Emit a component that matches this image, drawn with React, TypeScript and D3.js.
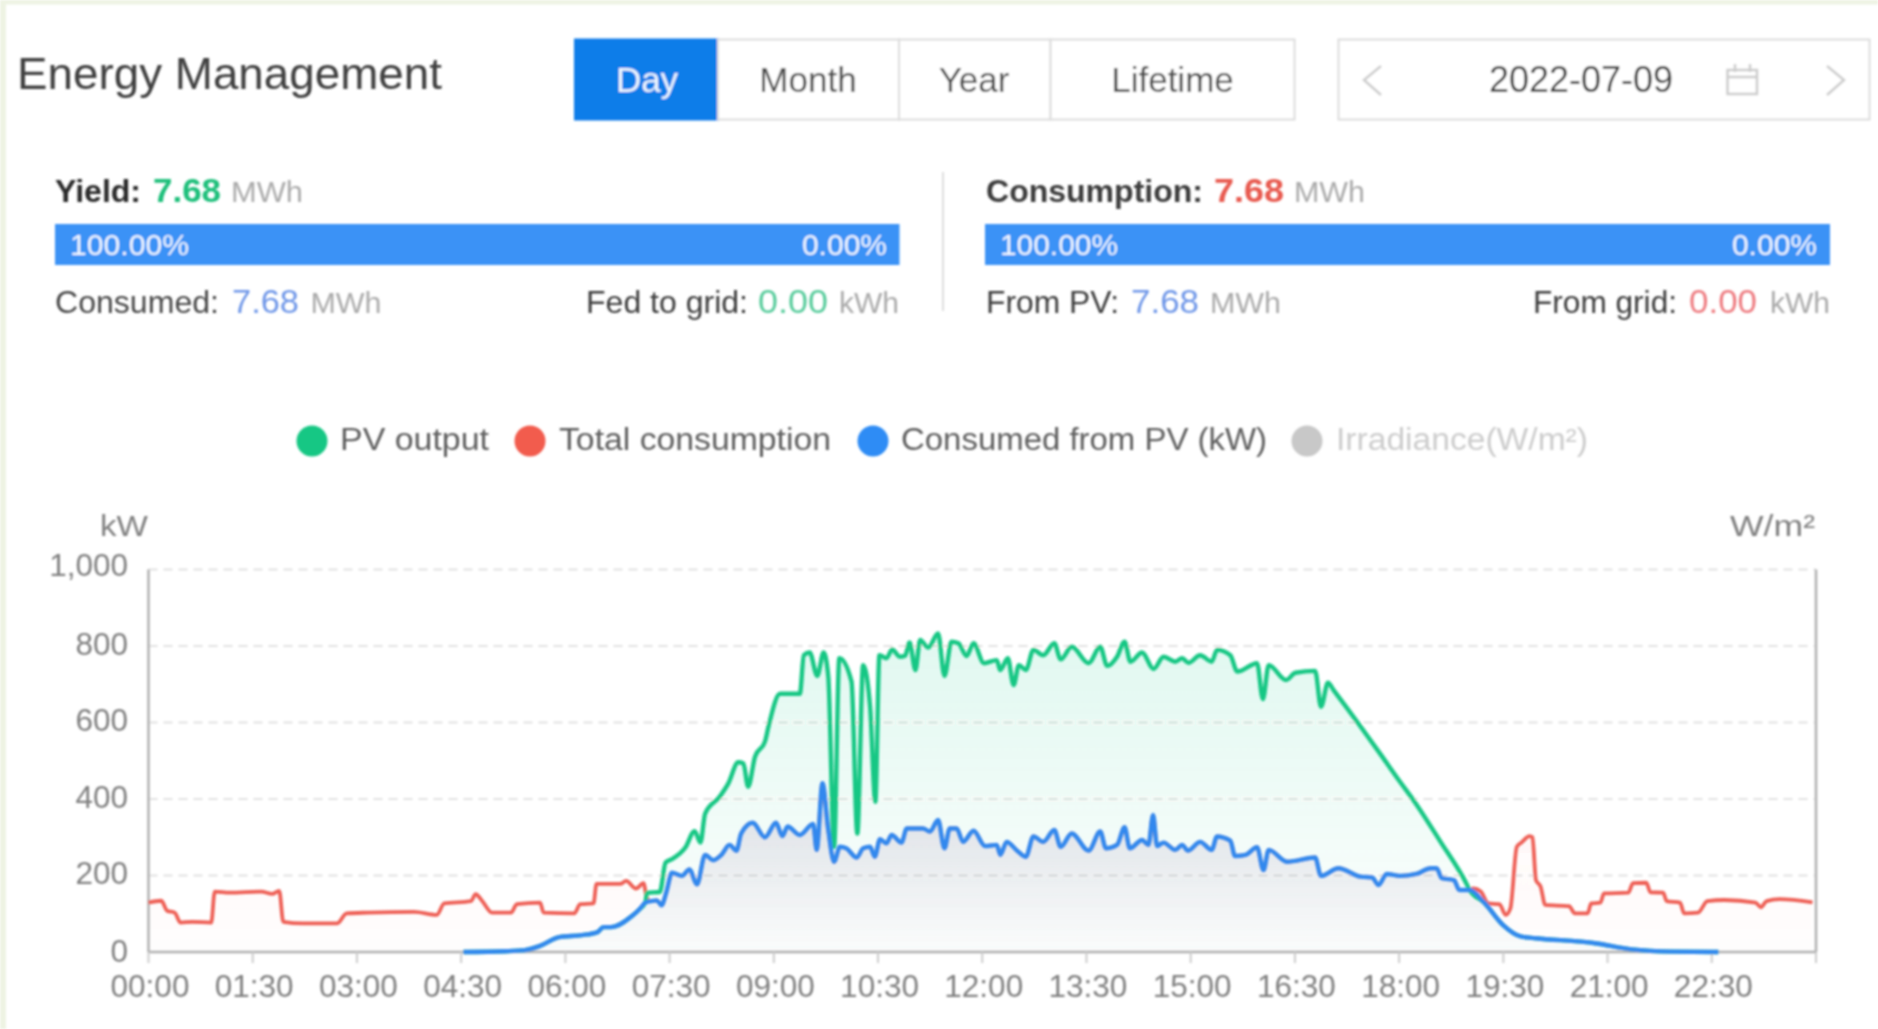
import React from "react";
import * as d3 from "d3";

// ---------- data (x is a 5-minute slot of the day, y is kW) ----------
const tickLabels = ["00:00","01:30","03:00","04:30","06:00","07:30","09:00","10:30","12:00","13:30","15:00","16:30","18:00","19:30","21:00","22:30"];
const yTicks = [0, 200, 400, 600, 800, 1000];
const slotsPerTick = 18;
const lastSlot = 287;
const slotsInDay = 288;

const blueSlots = [54.2,61.5,64.8,67.4,70.7,74.6,77.3,78.3,79.6,83.2,84.5,85.5,86.5,87.5,88.3,89.1,90.1,91.8,93.1,94.4,95.8,97.2,98.6,100,101.2,102,104,106.1,108,109.1,110,112.1,114.4,115,116,117,118,119,120.1,121.9,123,124.2,125,125.9,127,127.9,129.6,130.5,133.3,134.5,135.9,137,137.9,139.1,140.2,142,144,146,146.6,147.7,149.5,151,152.3,154,155.9,157,158.9,161.8,163.8,164.8,166.7,168,168.9,171,172.1,172.9,173.6,174.7,176.7,177.9,178.9,181,183,183.9,186.2,187,188.8,190.8,191.9,192.8,196,200.8,201.8,204.8,208.6,210.6,211.7,213.1,215.4,218.2,220.7,221.7,222.6,224.7,225.6,227.4,229.9,233.1,236.3,238.8,249,255.3,262.3,270.2];
const blueValues = [0,2,5,16,39,44,52,65,65,94,112,129,133,135,122,155,207,199,216,177,254,240,254,280,265,310,338,300,338,303,328,306,335,267,441,319,236,275,271,247,271,275,249,295,284,306,286,323,323,315,345,271,323,323,288,317,277,280,254,288,265,249,302,288,319,275,310,265,315,271,280,326,271,293,280,358,277,286,267,280,265,288,267,302,291,251,254,274,214,267,236,247,199,219,197,195,175,204,199,204,219,219,193,188,162,162,129,71,40,36,23,7,1,0];

const greenSlots = [85.8,88,89,90,92.4,94,95,95.8,98.3,99.8,101.5,102.4,103.2,104.4,106.1,106.7,108.7,112.1,112.8,113.8,115.1,116.2,117,118,118.9,121,122,123,124.2,125.1,125.8,127,128,129.3,130.2,131,132,132.8,134.2,135.9,137,138.2,139.4,140.8,142,143.8,146,146.6,147.9,148.9,149.8,151,152.3,154,155.9,157,158.9,161.8,163.8,165,166.7,168,169,171,173,174.7,176.7,177.9,179,181,183,183.9,186.2,187.4,190.8,191.8,192.8,195.8,197.4,200.8,201.8,203,204,208.3,212,215.4,217.9,222.3,226.8];
const greenValues = [155,157,234,242,273,316,286,362,406,441,496,493,432,511,550,589,675,675,776,783,722,783,720,275,768,707,310,750,641,393,776,768,791,772,774,809,737,816,796,833,722,811,807,774,807,755,763,737,768,698,750,737,790,776,807,765,798,755,798,748,772,811,759,783,740,772,759,768,756,776,759,790,776,733,755,661,750,711,730,735,641,704,684,596,518,445,393,290,180];

const redMorningSlots = [0,2.2,3.2,4.5,5.5,7.5,10.8,11.4,14,19.4,21.3,22.5,23.2,26.6,32.5,34.1,37.8,45.7,49.6,50.9,55.5,56.3,57.5,59.1,62.4,63.4,67.4,68,73.3,74.3,76.6,77.1,81.2,82.2,83.9,85.2,85.8];
const redMorningValues = [129,134,108,103,77,79,77,158,155,158,152,160,79,75,75,101,103,105,97,127,133,151,132,103,103,125,129,103,101,125,127,178,178,186,166,180,140];
const redEveningSlots = [228,229.3,230.6,232.5,233.6,234.4,235.5,236.3,237.7,238.2,238.8,239.6,240.4,244.5,245.5,247.7,248.3,249.9,250.5,254.7,255.5,257.8,258.5,260.7,261.3,263.6,264.3,266.7,268.3,271.2,276.6,277.5,278.5,280.7,286.4];
const redEveningValues = [166,158,127,125,97,114,275,286,303,300,188,171,123,120,101,101,127,129,153,155,180,181,156,155,133,129,101,103,133,136,129,117,133,138,130];

const legendNames = ["PV output", "Total consumption", "Consumed from PV (kW)", "Irradiance(W/m²)"];
const tabNames = ["Day", "Month", "Year", "Lifetime"];

type P = [number, number];
const zip = (a: number[], b: number[]): P[] => a.map((s, i) => [s, b[i]]);
const blue = zip(blueSlots, blueValues);
const pv: P[] = [...blue.filter(p => p[0] < 85.8), ...zip(greenSlots, greenValues), ...blue.filter(p => p[0] > 226.8)];
const total: P[] = [...zip(redMorningSlots, redMorningValues), ...blue.filter(p => p[0] > 85.8 && p[0] < 228), ...zip(redEveningSlots, redEveningValues)];

const FONT = "'Liberation Sans', Arial, sans-serif";
const x = d3.scaleLinear().domain([0, lastSlot]).range([148.5, 1816]);
const xTick = d3.scaleLinear().domain([0, slotsInDay]).range([148.5, 1816]);
const y = d3.scaleLinear().domain([0, 1000]).range([952, 569.5]);
const line = d3.line<P>().x(d => x(d[0])).y(d => y(d[1])).curve(d3.curveMonotoneX);
const area = d3.area<P>().x(d => x(d[0])).y0(y(0)).y1(d => y(d[1])).curve(d3.curveMonotoneX);

function T(p: { x: number; y: number; s: number; c: string; t: string; w?: number; a?: string; len?: number }) {
  return (
    <text x={p.x} y={p.y} fontSize={p.s} fill={p.c} fontWeight={p.w ?? 400} textAnchor={p.a ?? "start"} fontFamily={FONT}
      textLength={p.len} lengthAdjust={p.len ? "spacingAndGlyphs" : undefined}>{p.t}</text>
  );
}

export default function App() {
  const tabs = [[575, 718, 647, 0], [718, 899, 808, 0], [899, 1050.5, 974, 0], [1050.5, 1294.5, 1172.5, 0]];
  const cyan = "#3a92f6";
  const colors = ["#16c784", "#f25c4d", "#2f8cf5", "#c8c8c8"];
  const legendX = [[312, 340, 149], [530, 559, 272], [873, 901, 366], [1307, 1336, 252]];
  return (
    <svg width={1878} height={1029} style={{ position: "absolute", left: 0, top: 0, display: "block", background: "#fff" }}>
      <defs>
        <filter id="soft" x="0" y="0" width="100%" height="100%"><feGaussianBlur stdDeviation="0.85" /></filter>
        <linearGradient id="gGreen" x1="0" y1="0" x2="0" y2="1">
          <stop offset="0" stopColor="#16c784" stopOpacity={0.12} />
          <stop offset="1" stopColor="#16c784" stopOpacity={0.01} />
        </linearGradient>
        <linearGradient id="gBlue" x1="0" y1="0" x2="0" y2="1">
          <stop offset="0" stopColor="#5a5aa0" stopOpacity={0.14} />
          <stop offset="1" stopColor="#5a5aa0" stopOpacity={0.01} />
        </linearGradient>
        <linearGradient id="gRed" x1="0" y1="0" x2="0" y2="1">
          <stop offset="0" stopColor="#f25c4d" stopOpacity={0.04} />
          <stop offset="1" stopColor="#f25c4d" stopOpacity={0.005} />
        </linearGradient>
      </defs>
      <g filter="url(#soft)">
        <rect x={0} y={0} width={1878} height={4.5} fill="#eef3e3" />
        <rect x={0} y={0} width={6} height={1029} fill="#eef3e3" />

        <T x={17} y={89} s={44} c="#404040" t="Energy Management" len={425} />

        {tabs.map((b, i) => (
          <g key={tabNames[i]}>
            <rect x={b[0]} y={39.5} width={b[1] - b[0]} height={80} fill={i === 0 ? "#0f7de9" : "#fff"} stroke={i === 0 ? "#0f7de9" : "#dcdcdc"} strokeWidth={2} />
            <T x={b[2]} y={92} s={35} c={i === 0 ? "#eef6ff" : "#4a4a4a"} t={tabNames[i]} a="middle" />
          </g>
        ))}
        <rect x={1338.5} y={39.5} width={531} height={80} fill="#fff" stroke="#dcdcdc" strokeWidth={2} />
        <T x={1581} y={92} s={36} c="#3c3c3c" t="2022-07-09" a="middle" len={184} />
        <path d="M1381 66 L1364 80 L1381 95 M1827 66 L1844 80 L1827 95" fill="none" stroke="#ccc" strokeWidth={2.5} />
        <path d="M1727.5 70 H1757 V94 H1727.5 Z M1727.5 77 H1757 M1735 64 V72 M1750 64 V72" fill="none" stroke="#ccc" strokeWidth={2.5} />

        <T x={55} y={202} s={32} c="#2c2c2c" t="Yield:" w={600} len={86} />
        <T x={153} y={202} s={33} c="#1fbf7a" t="7.68" w={700} len={68} />
        <T x={231} y={202} s={30} c="#aaa" t="MWh" len={72} />
        <rect x={55} y={224} width={844.5} height={41} fill={cyan} />
        <T x={70} y={255} s={30} c="#f2f8ff" t="100.00%" len={119} />
        <T x={887} y={255} s={30} c="#f2f8ff" t="0.00%" a="end" />
        <T x={55} y={313} s={32} c="#484848" t="Consumed:" len={164} />
        <T x={232} y={313} s={33} c="#6f97e8" t="7.68" len={67} />
        <T x={310.5} y={313} s={30} c="#aaa" t="MWh" len={71} />
        <T x={586} y={313} s={32} c="#3c3c3c" t="Fed to grid:" len={162} />
        <T x={758} y={313} s={33} c="#58cc9c" t="0.00" len={70} />
        <T x={839} y={313} s={30} c="#aaa" t="kWh" len={60} />

        <line x1={943} x2={943} y1={172} y2={311} stroke="#dedede" strokeWidth={2} />

        <T x={986} y={202} s={32} c="#3c3c3c" t="Consumption:" w={600} len={217} />
        <T x={1214} y={202} s={33} c="#e85a4f" t="7.68" w={700} len={70} />
        <T x={1294} y={202} s={30} c="#aaa" t="MWh" len={71} />
        <rect x={985} y={224} width={845} height={41} fill={cyan} />
        <T x={1000} y={255} s={30} c="#f2f8ff" t="100.00%" len={118} />
        <T x={1817} y={255} s={30} c="#f2f8ff" t="0.00%" a="end" />
        <T x={986} y={313} s={32} c="#3c3c3c" t="From PV:" len={133} />
        <T x={1131} y={313} s={33} c="#6f97e8" t="7.68" len={68} />
        <T x={1210} y={313} s={30} c="#aaa" t="MWh" len={71} />
        <T x={1533} y={313} s={32} c="#3c3c3c" t="From grid:" len={144} />
        <T x={1689} y={313} s={33} c="#ee7b80" t="0.00" len={68} />
        <T x={1770} y={313} s={30} c="#aaa" t="kWh" len={60} />

        {legendNames.map((n, i) => (
          <g key={n}>
            <circle cx={legendX[i][0]} cy={441} r={15.5} fill={colors[i]} />
            <T x={legendX[i][1]} y={450} s={31} c={i === 3 ? "#ccc" : "#5e5e5e"} t={n} len={legendX[i][2]} />
          </g>
        ))}

        <T x={100} y={536} s={30} c="#808080" t="kW" len={48} />
        <T x={1730} y={536} s={30} c="#808080" t="W/m²" len={85} />

        {yTicks.map(v => (
          <g key={v}>
            {v > 0 && <line x1={x(0)} x2={x(lastSlot)} y1={y(v)} y2={y(v)} stroke="#e2e2e2" strokeWidth={2} strokeDasharray="9 6" />}
            <T x={128} y={y(v) + (v === 1000 ? 6 : v === 0 ? 10 : 8.5)} s={31.5} c="#808080" t={d3.format(",")(v)} a="end" />
          </g>
        ))}

        <path d={area(pv) ?? ""} fill="url(#gGreen)" />
        <path d={area(total) ?? ""} fill="url(#gRed)" />
        <path d={area(blue) ?? ""} fill="url(#gBlue)" />

        <line x1={x(0)} x2={x(0)} y1={y(1000)} y2={y(0)} stroke="#b0b0b0" strokeWidth={2.5} />
        <line x1={x(lastSlot)} x2={x(lastSlot)} y1={y(1000)} y2={y(0)} stroke="#b0b0b0" strokeWidth={2.5} />
        <line x1={x(0)} x2={x(lastSlot)} y1={y(0)} y2={y(0)} stroke="#b0b0b0" strokeWidth={2.5} />
        {tickLabels.map((l, i) => (
          <g key={l}>
            <line x1={xTick(i * slotsPerTick)} x2={xTick(i * slotsPerTick)} y1={y(0)} y2={y(0) + 11} stroke="#ccc" strokeWidth={2} />
            <T x={xTick(i * slotsPerTick) + 1.5} y={997} s={31.5} c="#808080" t={l} a="middle" />
          </g>
        ))}
        <line x1={xTick(slotsInDay)} x2={xTick(slotsInDay)} y1={y(0)} y2={y(0) + 11} stroke="#ccc" strokeWidth={2} />

        <path d={line(total) ?? ""} fill="none" stroke="#ee5f55" strokeWidth={3.8} strokeLinejoin="round" />
        <path d={line(pv) ?? ""} fill="none" stroke="#16c784" strokeWidth={4.4} strokeLinejoin="round" />
        <path d={line(blue) ?? ""} fill="none" stroke="#3388ee" strokeWidth={4.4} strokeLinejoin="round" />
      </g>
    </svg>
  );
}
